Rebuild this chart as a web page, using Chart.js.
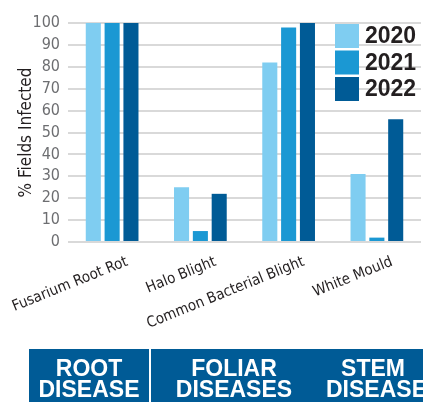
<!DOCTYPE html>
<html>
<head>
<meta charset="utf-8">
<script src="https://cdn.jsdelivr.net/npm/chart.js@4.4.1/dist/chart.umd.min.js"></script>
<style>
  html, body { margin: 0; padding: 0; background: #fff; }
  body { width: 423px; height: 402px; overflow: hidden; position: relative; }
  #wrap { position: absolute; left: 0; top: 0; width: 423px; height: 402px; }
  .band { position: absolute; top: 349px; height: 53px; background: #005b96; }
  .lbl { position: absolute; top: 358px; color: #fff; font: bold 23px 'Liberation Sans', Arial, sans-serif;
         line-height: 21px; text-align: center; white-space: nowrap; }
</style>
</head>
<body>
<div id="wrap"><canvas id="myChart" width="423" height="402"></canvas></div>
<div class="band" style="left:29px; width:120px;"></div>
<div class="band" style="left:151px; width:272px;"></div>
<div class="lbl" style="left:29px; width:120px;">ROOT<br>DISEASE</div>
<div class="lbl" style="left:174px; width:120px;">FOLIAR<br>DISEASES</div>
<div class="lbl" style="left:326px; width:94px;">STEM<br>DISEASES</div>
<script>
const diseases = ['Fusarium Root Rot', 'Halo Blight', 'Common Bacterial Blight', 'White Mould'];
const years = ['2020', '2021', '2022'];
const y2020 = [100, 25, 82, 31];
const y2021 = [100, 5, 98, 2];
const y2022 = [100, 22, 100, 56];
const yTicks = [0, 10, 20, 30, 40, 50, 60, 70, 80, 90, 100];
const colors = ['#7fcdf1', '#1b98d3', '#005b96'];

const narrow = "'Liberation Sans Narrow', 'DejaVu Sans Condensed', sans-serif";

// legend drawn inside the plot, top right
const boxLegend = {
    id: 'boxLegend',
    afterDraw(chart) {
        const c = chart.ctx;
        c.save();
        c.font = "bold 23px 'Liberation Sans', Arial, sans-serif";
        c.textBaseline = 'middle';
        chart.data.datasets.forEach((ds, i) => {
            const y = 24 + i * 26.5;
            c.fillStyle = ds.backgroundColor;
            c.fillRect(335, y, 24, 24);
            c.fillStyle = '#231f20';
            c.fillText(ds.label, 365, y + 13);
        });
        c.restore();
    }
};

new Chart(document.getElementById('myChart'), {
    type: 'bar',
    data: {
        labels: diseases,
        datasets: [
            {label: years[0], data: y2020, backgroundColor: colors[0]},
            {label: years[1], data: y2021, backgroundColor: colors[1]},
            {label: years[2], data: y2022, backgroundColor: colors[2]},
        ],
    },
    options: {
        responsive: false,
        animation: false,
        layout: {padding: {top: 23, right: 2, left: 0, bottom: 0}},
        categoryPercentage: 0.64,
        barPercentage: 0.8,
        plugins: {legend: {display: false}, tooltip: {enabled: false}},
        scales: {
            x: {
                grid: {display: false},
                border: {display: false},
                ticks: {
                    autoSkip: false,
                    minRotation: 22, maxRotation: 22,
                    labelOffset: 15,
                    padding: 3,
                    color: '#231f20',
                    font: {family: narrow, size: 15},
                },
                afterFit(scale) {
                    scale.height = 160;
                    scale.paddingLeft = 0;
                    scale.paddingRight = 0;
                },
            },
            y: {
                min: 0, max: 100,
                afterBuildTicks(scale) { scale.ticks = yTicks.map(v => ({value: v})); },
                grid: {color: '#d9d9d9', lineWidth: 2, drawTicks: false},
                border: {display: false},
                ticks: {
                    autoSkip: false,
                    padding: 8,
                    color: '#6d6e71',
                    font: {family: narrow, size: 16},
                },
                title: {
                    display: true,
                    text: '% Fields Infected',
                    color: '#231f20',
                    font: {family: narrow, size: 17},
                    padding: {top: 16, bottom: 0},
                },
                afterFit(scale) { scale.width = 68; },
            },
        },
    },
    plugins: [boxLegend],
});
</script>
</body>
</html>
